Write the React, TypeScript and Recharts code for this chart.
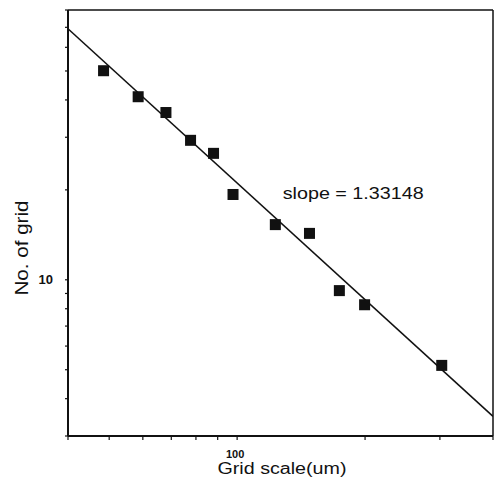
import { ScatterChart, Scatter, XAxis, YAxis, ReferenceLine, ReferenceDot, Label } from 'recharts';

const gridScale = [48.5, 58.5, 68, 77.7, 88, 97.8, 123, 148, 174, 199.5, 303];
const gridCount = [50.1, 41, 36.3, 29.3, 26.5, 19.3, 15.3, 14.3, 9.2, 8.25, 5.17];

// end points of the fitted power-law line
const fitScale = [40, 400];
const fitCount = [69.2, 3.49];

const xTicks = [40, 50, 60, 70, 80, 90, 100, 200, 300, 400];
const yTicks = [3, 4, 5, 6, 7, 8, 9, 10, 20, 30, 40, 50, 60, 70, 80];
const xLabelled = [100];
const yLabelled = [10];

const slopeText = 'slope = 1.33148';
const slopeAt = { x: 128, y: 18.6 };

const points = gridScale.map((x, i) => ({ x, y: gridCount[i] }));
const fit = fitScale.map((x, i) => ({ x, y: fitCount[i] }));

const FONT = '"Liberation Sans", Arial, Helvetica, sans-serif';

function SquareDot(props: any) {
  const { cx, cy } = props;
  if (cx == null || cy == null) return <g />;
  return <rect x={cx - 5.5} y={cy - 5.5} width={11} height={11} fill="#111" />;
}

function XTick(props: any) {
  const v = props.payload?.value;
  if (!xLabelled.includes(v)) return <g />;
  return (
    <text x={props.x - 2} y={props.y} dy="0.71em" textAnchor="middle"
      fontFamily={FONT} fontSize={11} fontWeight={600} fill="#111">
      {v}
    </text>
  );
}

function YTick(props: any) {
  const v = props.payload?.value;
  if (!yLabelled.includes(v)) return <g />;
  return (
    <text x={props.x} y={props.y} dy="0.36em" textAnchor="end"
      fontFamily={FONT} fontSize={13} fontWeight={600} fill="#111">
      {v}
    </text>
  );
}

function XTitle(props: any) {
  const vb = props.viewBox;
  return (
    <text x={vb.x + vb.width / 2 + 1.5} y={vb.y + vb.height - 13} textAnchor="middle"
      fontFamily={FONT} fontSize={16} fill="#111" textLength={129} lengthAdjust="spacingAndGlyphs">
      Grid scale(um)
    </text>
  );
}

function YTitle(props: any) {
  const vb = props.viewBox;
  const x = vb.x + 20;
  const y = vb.y + vb.height / 2 + 25;
  return (
    <text x={x} y={y} transform={`rotate(-90 ${x} ${y})`} textAnchor="middle"
      fontFamily={FONT} fontSize={18} fill="#111" textLength={95} lengthAdjust="spacingAndGlyphs">
      No. of grid
    </text>
  );
}

function SlopeLabel(props: any) {
  const vb = props.viewBox;
  return (
    <text x={vb.x} y={vb.y} fontFamily={FONT} fontSize={17} fill="#111"
      textLength={141} lengthAdjust="spacingAndGlyphs">
      {slopeText}
    </text>
  );
}

export default function App() {
  return (
    <div style={{ position: 'absolute', left: 0, top: 0, background: '#fff' }}>
      <ScatterChart width={497} height={487} margin={{ top: 10, right: 4, bottom: 0, left: 8 }}>
        <XAxis
          dataKey="x"
          type="number"
          scale="log"
          domain={[40, 400]}
          allowDataOverflow
          ticks={xTicks}
          interval={0}
          tickSize={4}
          tickMargin={10}
          height={51}
          axisLine={{ stroke: '#111', strokeWidth: 2 }}
          tickLine={{ stroke: '#111', strokeWidth: 1.2 }}
          tick={XTick}
        >
          <Label content={XTitle} />
        </XAxis>
        <YAxis
          dataKey="y"
          type="number"
          scale="log"
          domain={[3, 80]}
          allowDataOverflow
          ticks={yTicks}
          interval={0}
          tickSize={3}
          tickMargin={12}
          width={60}
          axisLine={{ stroke: '#111', strokeWidth: 2 }}
          tickLine={{ stroke: '#111', strokeWidth: 1.2 }}
          tick={YTick}
        >
          <Label content={YTitle} />
        </YAxis>
        <ReferenceLine y={80} stroke="#111" strokeWidth={1.5} />
        <ReferenceLine x={400} stroke="#111" strokeWidth={1.5} />
        <Scatter
          data={fit}
          line={{ stroke: '#111', strokeWidth: 1.5 }}
          lineType="joint"
          shape={() => <g />}
          isAnimationActive={false}
        />
        <Scatter data={points} shape={SquareDot} isAnimationActive={false} />
        <ReferenceDot x={slopeAt.x} y={slopeAt.y} r={0} fill="none" stroke="none">
          <Label content={SlopeLabel} />
        </ReferenceDot>
      </ScatterChart>
    </div>
  );
}
